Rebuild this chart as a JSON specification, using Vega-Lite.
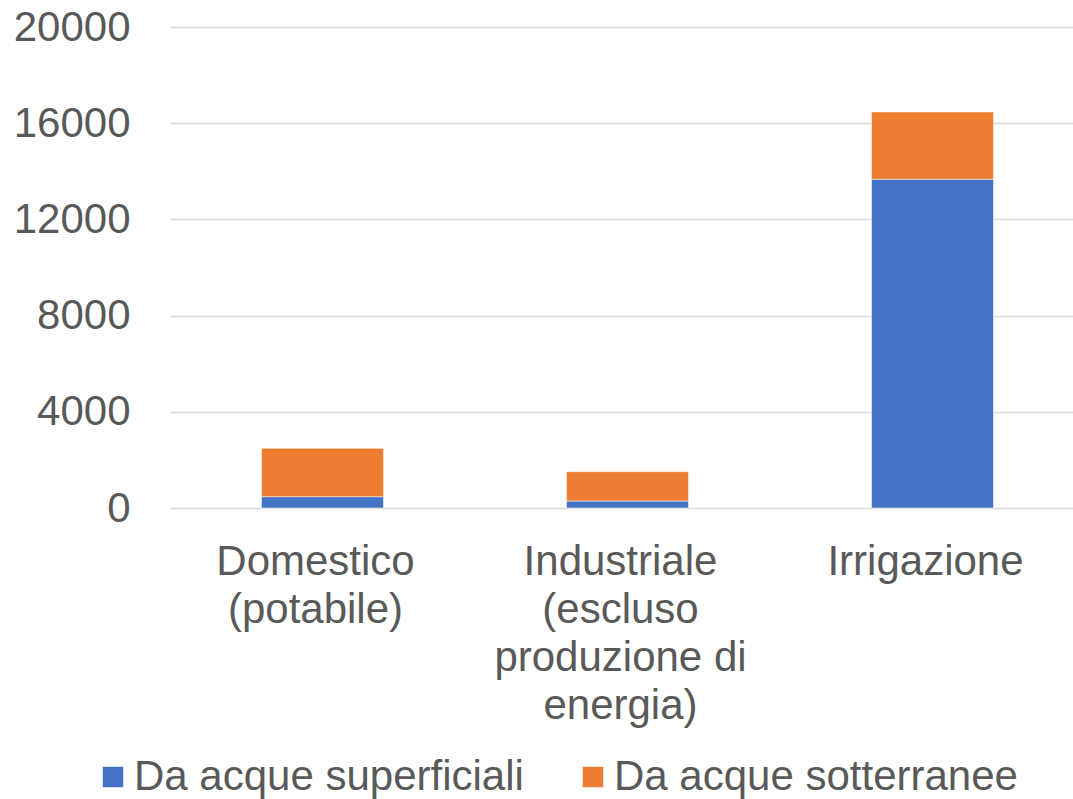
{
  "$schema": "https://vega.github.io/schema/vega-lite/v6.json",
  "autosize": {"type": "none"},
  "padding": {"left": 170, "top": 27, "right": 0, "bottom": 291},
  "width": 903,
  "height": 481,
  "background": "white",
  "data": {
    "values": [
      {"uso": "Domestico (potabile)", "fonte": "Da acque superficiali", "ordine": 1, "valore": 470},
      {"uso": "Domestico (potabile)", "fonte": "Da acque sotterranee", "ordine": 2, "valore": 2010},
      {"uso": "Industriale (escluso produzione di energia)", "fonte": "Da acque superficiali", "ordine": 1, "valore": 290},
      {"uso": "Industriale (escluso produzione di energia)", "fonte": "Da acque sotterranee", "ordine": 2, "valore": 1220},
      {"uso": "Irrigazione", "fonte": "Da acque superficiali", "ordine": 1, "valore": 13670},
      {"uso": "Irrigazione", "fonte": "Da acque sotterranee", "ordine": 2, "valore": 2800}
    ]
  },
  "mark": {"type": "bar", "stroke": "#ffffff", "strokeOpacity": 0.5, "strokeWidth": 1},
  "encoding": {
    "x": {
      "field": "uso",
      "type": "nominal",
      "sort": null,
      "scale": {"paddingInner": 0.6, "paddingOuter": 0.3, "range": [0, 915]},
      "axis": {
        "title": null,
        "labelAngle": 0,
        "domain": false,
        "ticks": false,
        "labelFont": "Liberation Sans",
        "labelFontSize": 42,
        "labelColor": "#595959",
        "labelLineHeight": 48,
        "labelPadding": 33,
        "labelOffset": -7,
        "labelLimit": 500,
        "labelBaseline": "top",
        "labelExpr": "datum.label == 'Domestico (potabile)' ? ['Domestico', '(potabile)'] : datum.label == 'Industriale (escluso produzione di energia)' ? ['Industriale', '(escluso', 'produzione di', 'energia)'] : datum.label"
      }
    },
    "y": {
      "field": "valore",
      "type": "quantitative",
      "stack": "zero",
      "scale": {"domain": [0, 20000], "nice": false},
      "axis": {
        "title": null,
        "values": [0, 4000, 8000, 12000, 16000, 20000],
        "format": "d",
        "domain": false,
        "ticks": false,
        "labelPadding": 40,
        "labelBaseline": "middle",
        "labelFont": "Liberation Sans",
        "labelFontSize": 42,
        "labelColor": "#595959",
        "gridColor": "#d9d9d9",
        "gridWidth": 1.5
      }
    },
    "color": {
      "field": "fonte",
      "type": "nominal",
      "sort": ["Da acque superficiali", "Da acque sotterranee"],
      "scale": {"domain": ["Da acque superficiali", "Da acque sotterranee"], "range": ["#4472C4", "#ED7D31"]},
      "legend": {
        "title": null,
        "orient": "none",
        "direction": "horizontal",
        "legendX": -78,
        "legendY": 729,
        "symbolType": "square",
        "symbolSize": 420,
        "symbolStrokeWidth": 0,
        "labelFont": "Liberation Sans",
        "labelFontSize": 42,
        "labelColor": "#595959",
        "labelOffset": 0,
        "columnPadding": 48,
        "labelLimit": 1000
      }
    },
    "order": {"field": "ordine", "type": "quantitative"}
  },
  "config": {"view": {"stroke": null}}
}
